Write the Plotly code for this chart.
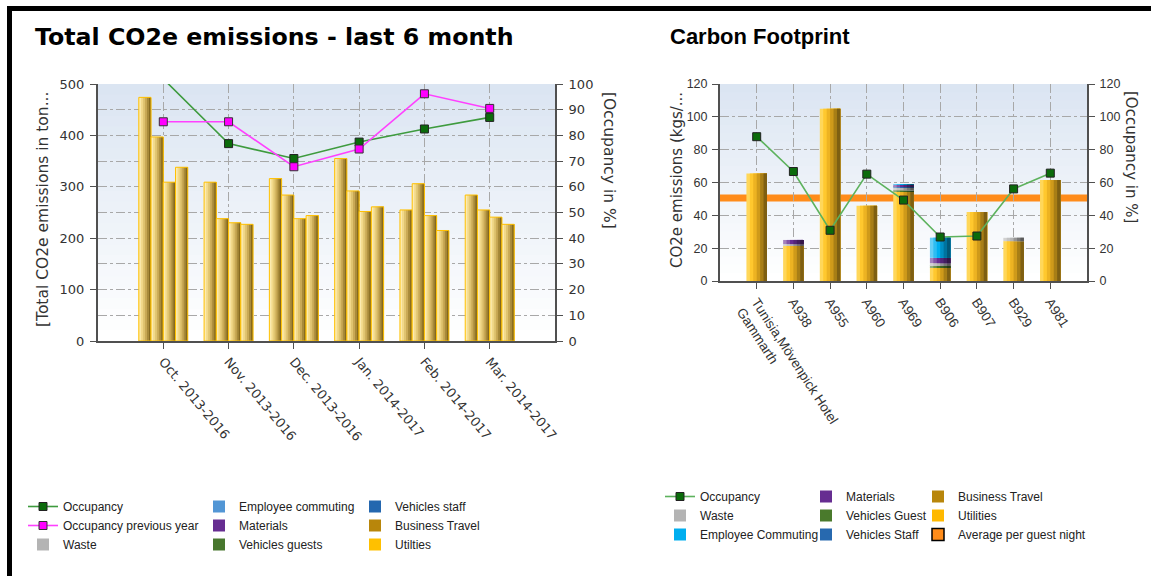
import plotly.graph_objects as go

W, H = 1151, 576

# ---------------- Left chart data ----------------
months = ["Oct. 2013-2016", "Nov. 2013-2016", "Dec. 2013-2016",
          "Jan. 2014-2017", "Feb. 2014-2017", "Mar. 2014-2017"]
emissions_year1 = [474, 309, 316, 355, 255, 284]
emissions_year2 = [397, 238, 284, 292, 306, 255]
emissions_year3 = [309, 230, 238, 252, 244, 241]
emissions_year4 = [338, 227, 244, 261, 215, 227]
occupancy = [102, 76.8, 71.0, 77.4, 82.5, 87.0]
occupancy_prev_year = [85.3, 85.3, 67.8, 74.7, 96.2, 90.5]
left_y_ticks = [0, 100, 200, 300, 400, 500]
left_y2_ticks = [0, 10, 20, 30, 40, 50, 60, 70, 80, 90, 100]

# ---------------- Right chart data ----------------
sites = ["Tunisia,Mövenpick Hotel<br>Gammarth", "A938", "A955", "A960", "A969",
         "B906", "B907", "B929", "A981"]
cf_utilities = [65.5, 21.5, 105.0, 45.8, 54.5, 8.5, 42.0, 24.3, 61.5]
cf_business_travel = [0, 0, 0, 0, 0, 0, 0, 0, 0]
cf_vehicles_guest = [0, 0, 0, 0, 0.8, 1.2, 0, 0, 0]
cf_waste = [0, 1.0, 0, 0, 1.5, 1.2, 0, 2.0, 0]
cf_vehicles_staff = [0, 0, 0, 0, 0.6, 0, 0, 0, 0]
cf_materials = [0, 2.5, 0, 0, 1.2, 3.2, 0, 0, 0]
cf_employee_commuting = [0, 0, 0, 0, 0.2, 12.3, 0, 0, 0]
cf_occupancy = [87.9, 66.7, 30.9, 65.1, 49.3, 26.8, 27.4, 56.1, 65.7]
avg_per_guest_night = 50.6
right_y_ticks = [0, 20, 40, 60, 80, 100, 120]

# ---------------- styles ----------------
TICK_FONT = dict(family="DejaVu Sans", size=13, color="#333333")
SANS = "Liberation Sans, Arial, sans-serif"
R_TICK_FONT = dict(family=SANS, size=12.5, color="#333333")
R_XTICK_FONT = dict(family=SANS, size=13.5, color="#333333")
LEG_FONT = dict(family=SANS, size=12, color="#222222")
GRID = dict(showgrid=True, gridcolor="#A8A8A8", gridwidth=1, griddash="dashdot")
AXLINE = dict(showline=True, linecolor="#505050", linewidth=2, ticks="outside",
              ticklen=6, tickcolor="#505050", zeroline=False, automargin=False)


def hex2rgb(h):
    h = h.lstrip("#")
    return tuple(int(h[i:i + 2], 16) for i in (0, 2, 4))


def shades(hexc, fr=(0.40, 0.18, 0.0, -0.18, -0.34, -0.50)):
    r, g, b = hex2rgb(hexc)
    out = []
    for f in fr:
        if f >= 0:
            c = [v + (255 - v) * f for v in (r, g, b)]
        else:
            c = [v * (1 + f) for v in (r, g, b)]
        out.append("rgb(%d,%d,%d)" % tuple(int(round(v)) for v in c))
    return out


LEFT_GOLD = ["#FCEBB0", "#F2D98A", "#E0C470", "#C9A955", "#A88A3A", "#85691F"]
RIGHT_GOLD = ["#FFD75A", "#FFC82E", "#EDB322", "#CF9A1A", "#A87E16", "#7E5F12"]

fig = go.Figure()


def add_cylinder(x, y, base, xa, ya, center, width, colors, outline=None):
    n = len(colors)
    left = center - width / 2.0
    for i, c in enumerate(colors):
        fig.add_trace(go.Bar(
            x=x, y=y, base=base, offset=left + i * width / n, width=width * (n - i) / n,
            marker=dict(color=c, line=dict(width=0)), xaxis=xa, yaxis=ya,
            showlegend=False, hoverinfo="skip"))
    if outline:
        fig.add_trace(go.Bar(
            x=x, y=y, base=base, offset=left, width=width,
            marker=dict(color="rgba(0,0,0,0)", line=dict(width=1, color=outline)),
            xaxis=xa, yaxis=ya, showlegend=False, hoverinfo="skip"))


# ---------------- Left chart bars ----------------
left_series = [emissions_year1, emissions_year2, emissions_year3, emissions_year4]
bw = 0.75 / len(left_series)
for k, vals in enumerate(left_series):
    center = -0.375 + bw * (k + 0.5)
    add_cylinder(months, vals, [0] * len(vals), "x", "y", center, bw, LEFT_GOLD, outline="#FFC000")

# ---------------- Right chart stacked bars ----------------
right_components = [
    ("Utilities", cf_utilities, "#FFB900"),
    ("Business Travel", cf_business_travel, "#B8860B"),
    ("Vehicles Guest", cf_vehicles_guest, "#4A7A2C"),
    ("Waste", cf_waste, "#B4B4B4"),
    ("Vehicles Staff", cf_vehicles_staff, "#2769AF"),
    ("Materials", cf_materials, "#662D91"),
    ("Employee Commuting", cf_employee_commuting, "#00AEEF"),
]
cum = [0.0] * len(sites)
for name, vals, col in right_components:
    cols = RIGHT_GOLD if name == "Utilities" else shades(col)
    add_cylinder(sites, vals, list(cum), "x2", "y3", 0.0, 0.56, cols)
    cum = [c + v for c, v in zip(cum, vals)]

# ---------------- Lines ----------------
fig.add_trace(go.Scatter(
    x=months, y=occupancy, name="Occupancy", mode="lines+markers",
    line=dict(color="#3E9B3E", width=1.6),
    marker=dict(symbol="square", size=8, color="#0B6B0B", line=dict(color="#222222", width=1)),
    xaxis="x", yaxis="y2", legend="legend", hoverinfo="skip"))
fig.add_trace(go.Scatter(
    x=months, y=occupancy_prev_year, name="Occupancy previous year", mode="lines+markers",
    line=dict(color="#FF40FF", width=1.6),
    marker=dict(symbol="square", size=8, color="#FF00FF", line=dict(color="#333333", width=1)),
    xaxis="x", yaxis="y2", legend="legend", hoverinfo="skip"))
fig.add_trace(go.Scatter(
    x=sites, y=cf_occupancy, name="Occupancy", mode="lines+markers",
    line=dict(color="#5DB25D", width=1.6),
    marker=dict(symbol="square", size=8, color="#0B6B0B", line=dict(color="#222222", width=1)),
    xaxis="x2", yaxis="y4", legend="legend4", hoverinfo="skip"))


# ---------------- Legend-only entries ----------------
def legend_box(name, color, legend, xa, ya, line_color=None):
    fig.add_trace(go.Bar(
        x=[None], y=[None], name=name,
        marker=dict(color=color, line=dict(width=1.5 if line_color else 0,
                                           color=line_color or color)),
        xaxis=xa, yaxis=ya, legend=legend, hoverinfo="skip"))


legend_box("Waste", "#B4B4B4", "legend", "x", "y")
legend_box("Employee commuting", "#5296D5", "legend2", "x", "y")
legend_box("Materials", "#662D91", "legend2", "x", "y")
legend_box("Vehicles guests", "#48772E", "legend2", "x", "y")
legend_box("Vehicles staff", "#2467AF", "legend3", "x", "y")
legend_box("Business Travel", "#B8860B", "legend3", "x", "y")
legend_box("Utilties", "#FFC000", "legend3", "x", "y")

legend_box("Waste", "#B4B4B4", "legend4", "x2", "y3")
legend_box("Employee Commuting", "#00AEEF", "legend4", "x2", "y3")
legend_box("Materials", "#662D91", "legend5", "x2", "y3")
legend_box("Vehicles Guest", "#4A7A2C", "legend5", "x2", "y3")
legend_box("Vehicles Staff", "#2769AF", "legend5", "x2", "y3")
legend_box("Business Travel", "#B8860B", "legend6", "x2", "y3")
legend_box("Utilities", "#FFB900", "legend6", "x2", "y3")
legend_box("Average per guest night", "#FF8C1A", "legend6", "x2", "y3", line_color="#000000")


def px(x):
    return x / W


def py(y):
    return 1 - y / H


def leg(xp, yp):
    return dict(x=px(xp), y=py(yp), xanchor="left", yanchor="top", font=LEG_FONT,
                bgcolor="rgba(0,0,0,0)", tracegroupgap=0, orientation="v",
                itemwidth=30)


# ---------------- shapes: background gradients, average line, frame ----------------
shapes = []
N = 24
top_rgb = (219, 229, 242)
for i in range(N):
    f = i / (N - 1)
    c = tuple(int(round(255 + (t - 255) * f)) for t in top_rgb)
    for xr, yr in (("x domain", "y domain"), ("x2 domain", "y3 domain")):
        shapes.append(dict(type="rect", xref=xr, yref=yr, x0=0, x1=1, y0=i / N, y1=1,
                           fillcolor="rgb(%d,%d,%d)" % c, line=dict(width=0), layer="below"))
shapes.append(dict(type="line", xref="x2 domain", yref="y3", x0=0, x1=1,
                   y0=avg_per_guest_night, y1=avg_per_guest_night,
                   line=dict(color="#FF8C1A", width=7), layer="below"))
shapes.append(dict(type="line", xref="paper", yref="paper", x0=px(7), x1=1, y0=py(8.5), y1=py(8.5),
                   line=dict(color="#000000", width=5), layer="above"))
shapes.append(dict(type="line", xref="paper", yref="paper", x0=px(9.5), x1=px(9.5), y0=0, y1=py(6),
                   line=dict(color="#000000", width=5), layer="above"))

annotations = [
    dict(text="Total CO2e emissions - last 6 month", x=px(33), y=py(36.5), xref="paper", yref="paper",
         xanchor="left", yanchor="middle", showarrow=False,
         font=dict(family="DejaVu Sans", size=23.7, color="#000000", weight="bold")),
    dict(text="Carbon Footprint", x=px(668), y=py(36), xref="paper", yref="paper",
         xanchor="left", yanchor="middle", showarrow=False,
         font=dict(family=SANS, size=22, color="#000000", weight="bold")),
    dict(text="[Total CO2e emissions in ton...", x=px(43), y=py(210), xref="paper", yref="paper",
         xanchor="center", yanchor="middle", showarrow=False, textangle=-90,
         font=dict(family="DejaVu Sans", size=15.5, color="#333333")),
    dict(text="[Occupancy in %]", x=px(609), y=py(160), xref="paper", yref="paper",
         xanchor="center", yanchor="middle", showarrow=False, textangle=90,
         font=dict(family="DejaVu Sans", size=15.5, color="#333333")),
    dict(text="CO2e emissions (kgs/...", x=px(677), y=py(180), xref="paper", yref="paper",
         xanchor="center", yanchor="middle", showarrow=False, textangle=-90,
         font=dict(family="DejaVu Sans", size=15, color="#333333")),
    dict(text="[Occupancy in %]", x=px(1131), y=py(157), xref="paper", yref="paper",
         xanchor="center", yanchor="middle", showarrow=False, textangle=90,
         font=dict(family="DejaVu Sans", size=15, color="#333333")),
]

fig.update_layout(
    width=W, height=H, margin=dict(l=0, r=0, t=0, b=0, pad=0, autoexpand=False),
    paper_bgcolor="white", plot_bgcolor="white",
    barmode="overlay", showlegend=True,
    xaxis=dict(domain=[px(98), px(555)], anchor="y", type="category", categoryorder="array",
               categoryarray=months, range=[-1, 6], tickangle=50, tickfont=TICK_FONT,
               **GRID, **AXLINE),
    yaxis=dict(domain=[py(341), py(84)], anchor="x", range=[0, 500], tickvals=left_y_ticks,
               showgrid=False, tickfont=TICK_FONT, ticklabelstandoff=3, **AXLINE),
    yaxis2=dict(overlaying="y", anchor="x", side="right", range=[0, 100], tickvals=left_y2_ticks,
                tickfont=TICK_FONT, ticklabelstandoff=3, **GRID, **AXLINE),
    xaxis2=dict(domain=[px(720), px(1087)], anchor="y3", type="category", categoryorder="array",
                categoryarray=sites, range=[-1, 9], tickangle=57, tickfont=R_XTICK_FONT,
                **GRID, **AXLINE),
    yaxis3=dict(domain=[py(281), py(84)], anchor="x2", range=[0, 120], tickvals=right_y_ticks,
                tickfont=R_TICK_FONT, ticklabelstandoff=2, **GRID, **AXLINE),
    yaxis4=dict(overlaying="y3", anchor="x2", side="right", range=[0, 120], tickvals=right_y_ticks,
                showgrid=False, tickfont=R_TICK_FONT, ticklabelstandoff=2, **AXLINE),
    legend=leg(23, 492),
    legend2=leg(199, 492),
    legend3=leg(355, 492),
    legend4=leg(660, 482),
    legend5=leg(806, 482),
    legend6=leg(918, 482),
    shapes=shapes,
    annotations=annotations,
    hovermode=False,
)

fig.write_html("out.html", config={"displayModeBar": False},
               post_script="document.body.style.margin='0';document.body.style.overflow='hidden';")
